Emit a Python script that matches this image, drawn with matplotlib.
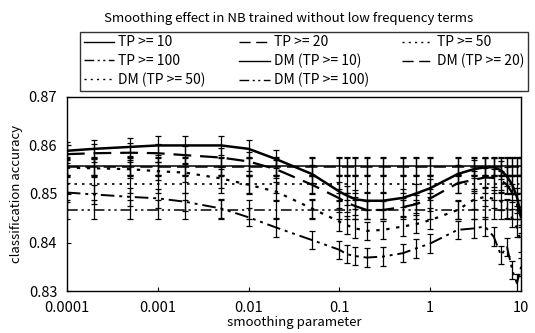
import matplotlib
matplotlib.use("Agg")
import matplotlib.pyplot as plt
from matplotlib.lines import Line2D
from matplotlib.ticker import FixedLocator, FixedFormatter, NullLocator

plt.rcParams['font.family'] = ['Noto Sans CJK JP', 'DejaVu Sans']

# smoothing parameter values
x = [0.0001, 0.0002, 0.0005, 0.001, 0.002, 0.005, 0.01, 0.02, 0.05, 0.1, 0.12,
     0.15, 0.2, 0.3, 0.5, 0.7, 1, 2, 3, 4, 5, 6, 7, 8, 9, 10]

tp10 = [0.8589, 0.8593, 0.8597, 0.8600, 0.8600, 0.8600, 0.8593, 0.8572, 0.8541,
        0.8505, 0.8497, 0.8489, 0.8486, 0.8486, 0.8492, 0.8501, 0.8512, 0.8541,
        0.8551, 0.8555, 0.8555, 0.8549, 0.8536, 0.8519, 0.8494, 0.8455]
tp20 = [0.8582, 0.8584, 0.8585, 0.8584, 0.8580, 0.8575, 0.8567, 0.8551, 0.8519,
        0.8491, 0.8482, 0.8475, 0.8467, 0.8467, 0.8473, 0.8479, 0.8491, 0.8522,
        0.8529, 0.8534, 0.8533, 0.8528, 0.8519, 0.8502, 0.8480, 0.8450]
tp50 = [0.8554, 0.8553, 0.8551, 0.8547, 0.8544, 0.8532, 0.8519, 0.8505, 0.8470,
        0.8443, 0.8436, 0.8429, 0.8424, 0.8426, 0.8433, 0.8438, 0.8446, 0.8467,
        0.8488, 0.8494, 0.8490, 0.8485, 0.8470, 0.8450, 0.8430, 0.8400]
tp100 = [0.8503, 0.8499, 0.8494, 0.8491, 0.8484, 0.8470, 0.8452, 0.8431, 0.8405,
         0.8385, 0.8376, 0.8372, 0.8369, 0.8371, 0.8378, 0.8388, 0.8398, 0.8426,
         0.8429, 0.8433, 0.8412, 0.8374, 0.8391, 0.8343, 0.8316, 0.8350]
dm10 = [0.8558] * len(x)
dm20 = [0.8556] * len(x)
dm50 = [0.8520] * len(x)
dm100 = [0.8468] * len(x)
err = 0.0019

labels = ["TP >= 10", "TP >= 20", "TP >= 50", "TP >= 100",
          "DM (TP >= 10)", "DM (TP >= 20)", "DM (TP >= 50)", "DM (TP >= 100)"]

dashdotdot = (0, (7, 2.5, 1.5, 2.5, 1.5, 2.5))
styles = ['-', (0, (8, 4)), (0, (1.5, 3)), dashdotdot,
          '-', (0, (8, 4)), (0, (1.5, 3)), dashdotdot]
widths = [1.8, 1.6, 1.6, 1.4, 1.1, 1.1, 1.2, 1.1]
series = [tp10, tp20, tp50, tp100, dm10, dm20, dm50, dm100]

fig = plt.figure(figsize=(5.35, 3.33), dpi=100)
ax = fig.add_axes([0.125, 0.126, 0.849, 0.583])

handles = []
for ys, ls, lw, lab in zip(series, styles, widths, labels):
    ax.errorbar(x, ys, yerr=err, fmt='none', ecolor='black', elinewidth=0.9,
                capsize=2.2, capthick=0.9)
    ax.plot(x, ys, color='black', linestyle=ls, linewidth=lw)
    # thin line for the legend key, as in the original
    handles.append(Line2D([], [], color='black', linestyle=ls, linewidth=1.0))

ax.set_xscale('log')
ax.set_xlim(0.0001, 10)
ax.set_ylim(0.83, 0.87)
ax.xaxis.set_major_locator(FixedLocator([0.0001, 0.001, 0.01, 0.1, 1, 10]))
ax.xaxis.set_major_formatter(FixedFormatter(['0.0001', '0.001', '0.01', '0.1', '1', '10']))
ax.xaxis.set_minor_locator(NullLocator())
ax.set_yticks([0.83, 0.84, 0.85, 0.86, 0.87])
ax.set_yticklabels(['0.83', '0.84', '0.85', '0.86', '0.87'])
ax.tick_params(direction='in', length=3, labelsize=10.5, pad=7)
for sp in ax.spines.values():
    sp.set_linewidth(1.0)

ax.set_xlabel('smoothing parameter', fontsize=9.5, labelpad=1)
ax.set_ylabel('classification accuracy', fontsize=9.5, labelpad=4)

fig.text(0.54, 0.945, 'Smoothing effect in NB trained without low frequency terms',
         ha='center', va='center', fontsize=9.5)

order = [0, 3, 6, 1, 4, 7, 2, 5]
leg = fig.legend([handles[i] for i in order], [labels[i] for i in order],
                 ncol=3, loc='upper left', mode='expand',
                 bbox_to_anchor=(0.15, 0.739, 0.837, 0.165),
                 fontsize=10, frameon=True, fancybox=False, handlelength=2.2,
                 handletextpad=0.3, borderaxespad=0, labelspacing=0.32,
                 borderpad=0.25, columnspacing=1.0)
leg.get_frame().set_edgecolor('black')
leg.get_frame().set_linewidth(1.0)

fig.savefig('out.png', dpi=100)
